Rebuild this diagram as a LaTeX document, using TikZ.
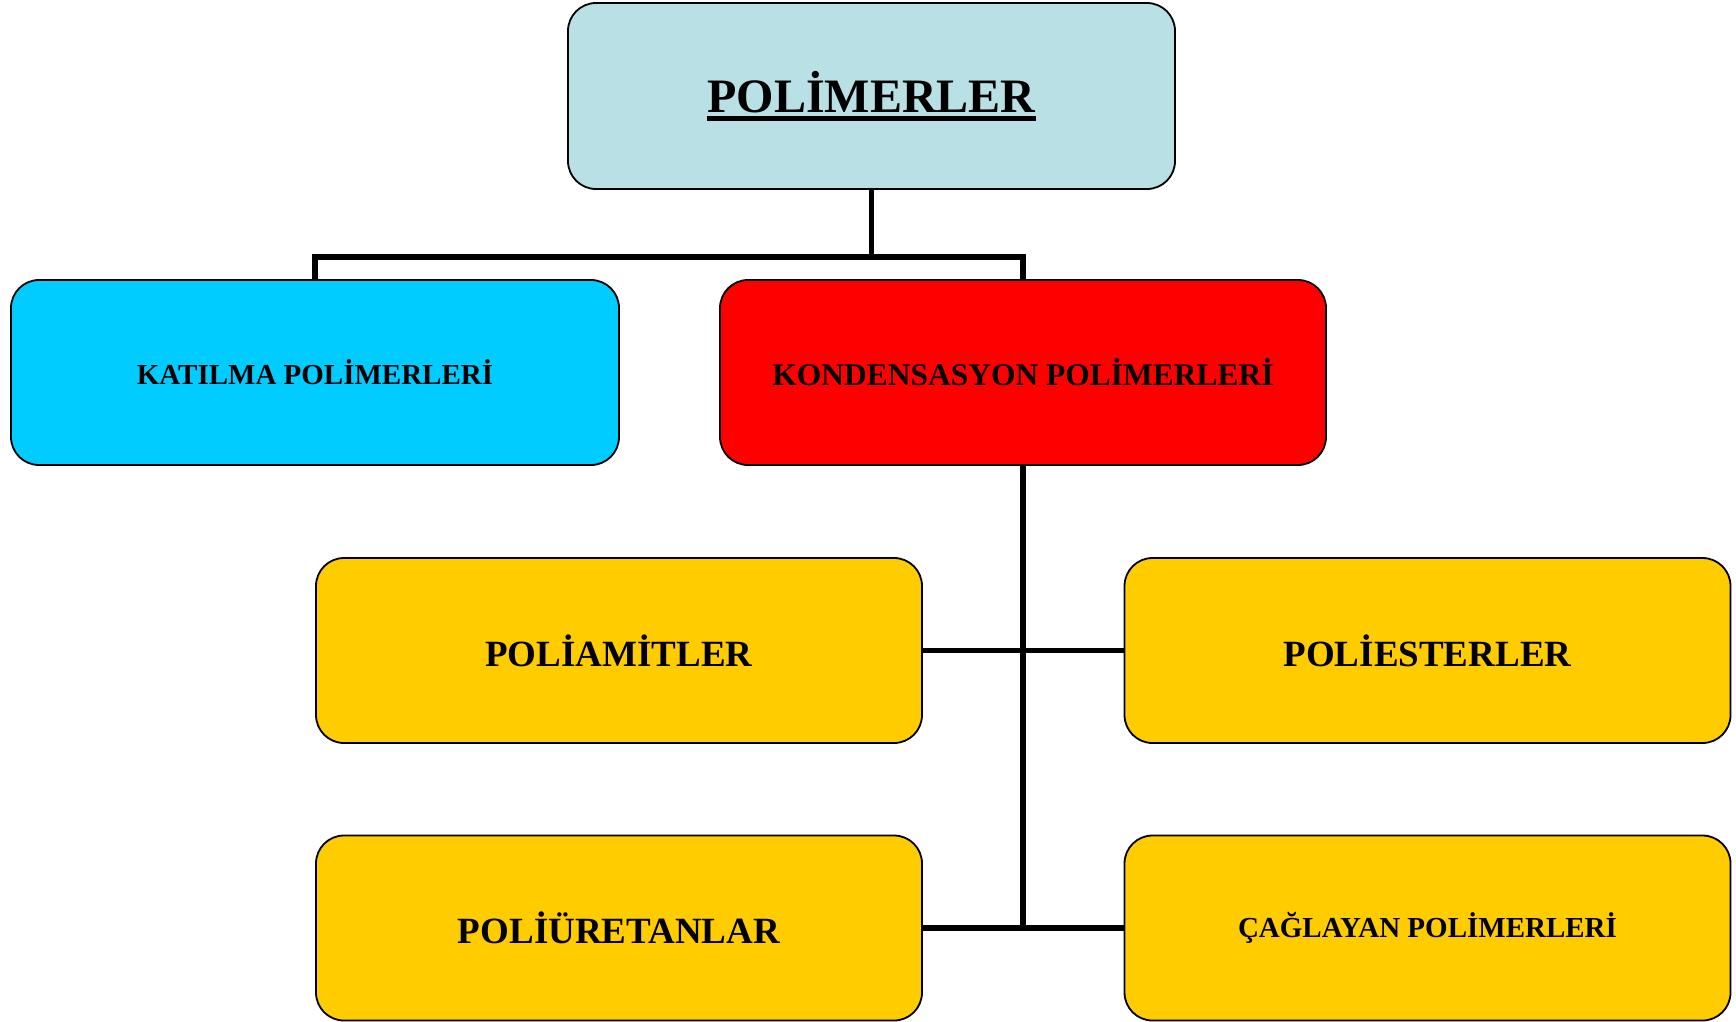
\documentclass[tikz,border=0pt]{standalone}
\usepackage{fontspec}
\setmainfont{Liberation Serif}
\newcommand\myul[1]{\leavevmode\setbox0\hbox{#1}\rlap{\vrule width\wd0 height -4pt depth 8.5pt}\box0}
\definecolor{titlebg}{RGB}{185,224,228}
\definecolor{cyanbg}{RGB}{0,204,255}
\definecolor{redbg}{RGB}{255,0,0}
\definecolor{yellowbg}{RGB}{255,204,0}
\tikzset{
  box/.style={draw=black, line width=1.8pt, rounded corners=28pt, minimum width=606pt, minimum height=185pt, inner sep=0pt, font=\bfseries},
  conn/.style={draw=black, line width=5.5pt, line join=miter},
}
\begin{document}
\begin{tikzpicture}[x=1pt,y=-1pt]
\useasboundingbox (0,0) rectangle (1736,1021);
\node[box, fill=titlebg, minimum width=607pt, minimum height=186pt, font=\bfseries\fontsize{48}{52}\selectfont] (top) at (871.5,96) {\myul{POLİMERLER}};
\node[box, fill=cyanbg, minimum width=608pt, font=\bfseries\fontsize{29}{32}\selectfont] (kat) at (315,372.5) {KATILMA POLİMERLERİ};
\node[box, fill=redbg, font=\bfseries\fontsize{31.5}{34}\selectfont] (kond) at (1023,372.5) {KONDENSASYON POLİMERLERİ};
\node[box, fill=yellowbg, font=\bfseries\fontsize{37}{40}\selectfont] (pa) at (619,650.5) {POLİAMİTLER};
\node[box, fill=yellowbg, font=\bfseries\fontsize{37}{40}\selectfont] (pe) at (1427.5,650.5) {POLİESTERLER};
\node[box, fill=yellowbg, font=\bfseries\fontsize{37}{40}\selectfont] (pu) at (619,928) {POLİÜRETANLAR};
\node[box, fill=yellowbg, font=\bfseries\fontsize{29}{32}\selectfont] (cp) at (1427.5,928) {ÇAĞLAYAN POLİMERLERİ};
\coordinate (j) at (871.5,257);
\draw[conn] (top.south) -- (j);
\draw[conn] (kat.north) |- (j) -| (kond.north);
\draw[conn] (kond.south) -- (kond.south |- pu.east);
\draw[conn] (pa.east) -- (pe.west);
\draw[conn] (pu.east) -- (cp.west);
\end{tikzpicture}
\end{document}
